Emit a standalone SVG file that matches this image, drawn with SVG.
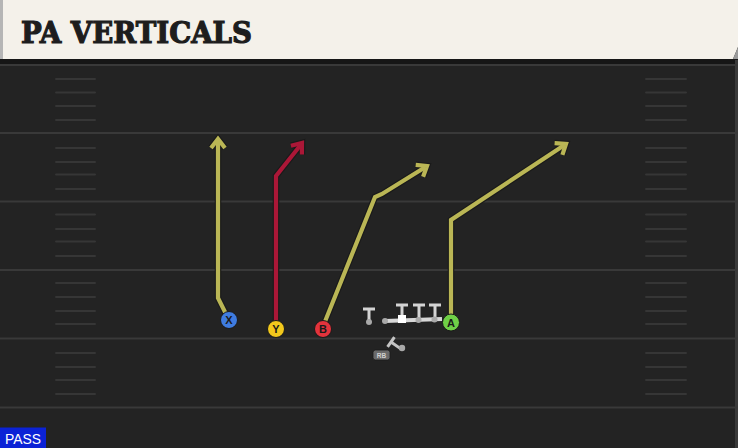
<svg xmlns="http://www.w3.org/2000/svg" width="738" height="448" viewBox="0 0 738 448">
<defs>
<style>
.yard{stroke:#393939;stroke-width:2}
.hash{stroke:#363636;stroke-width:2;stroke-linecap:round}
.ol{stroke:#1a1a1a;stroke-width:6.5;fill:none;stroke-linejoin:miter;stroke-linecap:butt}
.olive{stroke:#bab655;stroke-width:4.2;fill:none;stroke-linejoin:miter}
.red{stroke:#ab1737;stroke-width:4.2;fill:none;stroke-linejoin:miter}
.pl{stroke:#1a1a1a;stroke-width:1}
.lbl{font-family:"Liberation Sans",Arial,sans-serif;font-weight:bold;font-size:11px;fill:#1a1a1a;text-anchor:middle}
.t{stroke:#d4d4d4;stroke-width:3;fill:none}
.dot{fill:#a9a9a9}
</style>
</defs>
<rect x="0" y="0" width="738" height="448" fill="#232323"/>
<rect x="0" y="59" width="738" height="6" fill="#161616"/>
<rect x="735" y="60" width="3" height="388" fill="#3a3a3a"/>
<g id="field">
<line class="yard" x1="0" y1="65" x2="738" y2="65"/>
<line class="yard" x1="0" y1="133" x2="738" y2="133"/>
<line class="yard" x1="0" y1="201.5" x2="738" y2="201.5"/>
<line class="yard" x1="0" y1="270" x2="738" y2="270"/>
<line class="yard" x1="0" y1="338.5" x2="738" y2="338.5"/>
<line class="yard" x1="0" y1="407.5" x2="738" y2="407.5"/>
<g class="hash">
<path d="M56 79H95M56 92.5H95M56 106H95M56 120H95M56 148H95M56 162H95M56 174.5H95M56 189H95M56 214.5H95M56 229H95M56 241.5H95M56 256H95M56 283H95M56 297H95M56 311H95M56 324H95M56 353H95M56 367H95M56 380H95M56 394H95"/>
<path d="M646 79H686M646 92.5H686M646 106H686M646 120H686M646 148H686M646 162H686M646 174.5H686M646 189H686M646 214.5H686M646 229H686M646 241.5H686M646 256H686M646 283H686M646 297H686M646 311H686M646 324H686M646 353H686M646 367H686M646 380H686M646 394H686"/>
</g>
</g>
<g id="header">
<polygon points="0,0 738,0 738,47 733,59 0,59" fill="#f4f1ea"/>
<polygon points="738,47 733,59 738,59" fill="#9a9a9a"/>
<rect x="0" y="0" width="3" height="59" fill="#b5b5b5"/>
<text x="21" y="43" font-family="DejaVu Serif, serif" font-weight="bold" font-size="29" fill="#1d1d1d" stroke="#1d1d1d" stroke-width="1.2" textLength="231" lengthAdjust="spacingAndGlyphs">PA VERTICALS</text>
</g>
<g id="connectors">
<g class="ol">
<path d="M229 320L218 298L218 141"/>
<polyline points="211,148 218,139 225,148"/>
<path d="M276 329L276 176L301 144.5"/>
<polyline points="301.9,154.4 302,143 290.9,145.7"/>
<path d="M322 329L375 197L382 194L425.5 167"/>
<polyline points="423.1,176.7 427,166 415.7,164.8"/>
<path d="M451 322L451 220L564.5 145"/>
<polyline points="562.4,154.8 566,144 554.6,143.1"/>
</g>
<g class="olive">
<path d="M229 320L218 298L218 141"/>
<polyline points="211,148 218,139 225,148"/>
<path d="M322 329L375 197L382 194L425.5 167"/>
<polyline points="423.1,176.7 427,166 415.7,164.8"/>
<path d="M451 322L451 220L564.5 145"/>
<polyline points="562.4,154.8 566,144 554.6,143.1"/>
</g>
<g class="red">
<path d="M276 329L276 176L301 144.5"/>
<polyline points="301.9,154.4 302,143 290.9,145.7"/>
</g>
</g>
<g id="OL">
<line x1="385" y1="321" x2="442" y2="319" stroke="#d8d8d8" stroke-width="4"/>
<path class="t" d="M363 309H375M369 309V321"/>
<circle class="dot" cx="369" cy="322" r="3"/>
<path class="t" d="M396 305H408M402 305V319"/>
<path class="t" d="M413 305H425M419 305V319"/>
<path class="t" d="M429 305H441M435 305V319"/>
<circle class="dot" cx="385" cy="321" r="3"/>
<circle class="dot" cx="418.5" cy="320" r="3"/>
<circle class="dot" cx="434.5" cy="319.5" r="3"/>
<rect x="398" y="315" width="8" height="8" fill="#ffffff"/>
</g>
<g id="RB">
<g transform="translate(391 342) rotate(35)">
<path d="M0 -6V6M0 0H12" stroke="#c4c4c4" stroke-width="3" fill="none"/>
</g>
<circle class="dot" cx="402" cy="348" r="3.2" fill="#8a8a8a"/>
<rect x="373" y="350" width="17" height="10" rx="2.5" fill="#6a6a6a" stroke="#1a1a1a" stroke-width="0.8"/>
<text x="381.5" y="358" font-family="Liberation Sans, Arial, sans-serif" font-weight="bold" font-size="6.5" fill="#d0d0d0" text-anchor="middle">RB</text>
</g>
<g id="X">
<circle class="pl" cx="229" cy="320" r="8.5" fill="#3f7ce0"/>
<text class="lbl" x="229" y="324">X</text>
</g>
<g id="Y">
<circle class="pl" cx="276" cy="329" r="8.5" fill="#f2c81c"/>
<text class="lbl" x="276" y="333">Y</text>
</g>
<g id="B">
<circle class="pl" cx="323" cy="329" r="8.5" fill="#e3333c"/>
<text class="lbl" x="323" y="333">B</text>
</g>
<g id="A">
<circle class="pl" cx="451" cy="322.5" r="8.5" fill="#6fd047"/>
<text class="lbl" x="451" y="326.5">A</text>
</g>
<g id="pass">
<rect x="0" y="427.5" width="46" height="20.5" fill="#0b22d6"/>
<text x="5" y="444" font-family="Liberation Sans, Arial, sans-serif" font-size="14.5" fill="#ffffff" textLength="36" lengthAdjust="spacingAndGlyphs">PASS</text>
</g>
</svg>
